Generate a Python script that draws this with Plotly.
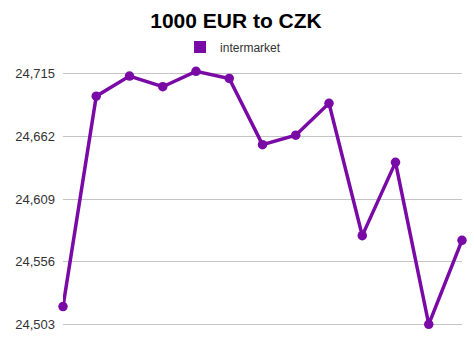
import plotly.graph_objects as go

title_text = "1000 EUR to CZK"
series_name = "intermarket"
x_index = list(range(13))
rates = [24518, 24696, 24713, 24704, 24717, 24711, 24655, 24663, 24690, 24578, 24640, 24503, 24574]
tick_values = [24503, 24556, 24609, 24662, 24715]
tick_labels = ["24,503", "24,556", "24,609", "24,662", "24,715"]

color = "#7a0aa6"
W, H = 474, 355

# pixel geometry of the reference: 24,715 at y=74, 24,503 at y=324
top_px, bot_px = 74.0, 324.0
pad = 4  # value units of padding so edge gridlines are drawn
ppu = (bot_px - top_px) / (tick_values[-1] - tick_values[0])

fig = go.Figure()
fig.add_trace(go.Scatter(
    x=x_index, y=rates, mode="lines+markers",
    line=dict(color=color, width=3.5),
    marker=dict(color=color, size=9.5),
    cliponaxis=False, showlegend=False, hoverinfo="skip",
))
fig.add_trace(go.Scatter(
    x=[None], y=[None], mode="markers", name=series_name,
    marker=dict(color=color, size=12, symbol="square"),
    showlegend=True,
))

fig.update_layout(
    width=W, height=H,
    margin=dict(l=63, r=12, t=top_px - pad * ppu, b=H - bot_px - pad * ppu,
                autoexpand=False),
    paper_bgcolor="white", plot_bgcolor="white",
    font=dict(family="Liberation Sans, Arial, sans-serif", color="#333333"),
    title=dict(text="<b>%s</b>" % title_text, x=236 / W, xanchor="center",
               y=1 - 21 / H, yanchor="middle", yref="container",
               font=dict(size=21, color="#000000")),
    legend=dict(orientation="h", x=202 / W, xanchor="center",
                y=1 - 47 / H, yanchor="middle", yref="container",
                font=dict(size=12, color="#333333"),
                itemwidth=30, bgcolor="rgba(0,0,0,0)"),
    xaxis=dict(range=[0, 12], visible=False, showgrid=False, zeroline=False),
    yaxis=dict(range=[tick_values[0] - pad, tick_values[-1] + pad],
               tickvals=tick_values, ticktext=tick_labels,
               showgrid=True, gridcolor="#c4c4c4", gridwidth=1,
               zeroline=False, showline=False, ticks="", ticklabelstandoff=7,
               tickfont=dict(size=13, color="#333333")),
)

fig.write_html("out.html")
